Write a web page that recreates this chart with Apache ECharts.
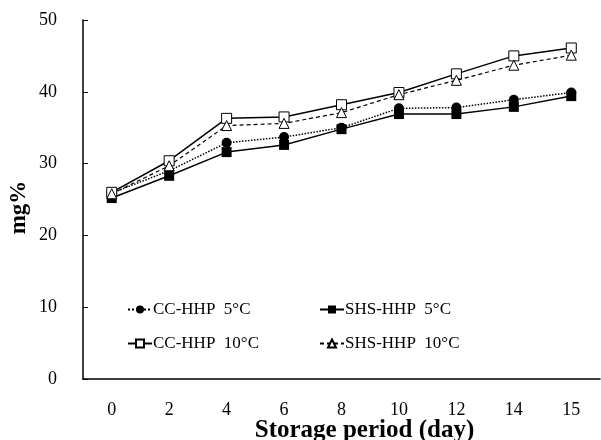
<!DOCTYPE html>
<html>
<head>
<meta charset="utf-8">
<script src="https://cdn.jsdelivr.net/npm/echarts@6/dist/echarts.min.js"></script>
<style>
  html, body { margin: 0; padding: 0; background: #fff; }
  #chart { width: 601px; height: 440px; }
</style>
</head>
<body>
<div id="chart"></div>
<script>
var days = ['0', '2', '4', '6', '8', '10', '12', '14', '15'];
var ccHhp5 = [25.9, 29.0, 32.9, 33.7, 35.0, 37.7, 37.8, 38.9, 39.9];
var shsHhp5 = [25.2, 28.3, 31.6, 32.6, 34.8, 36.9, 36.9, 37.9, 39.4];
var ccHhp10 = [26.0, 30.4, 36.3, 36.5, 38.2, 39.9, 42.5, 45.0, 46.1];
var shsHhp10 = [25.8, 29.7, 35.3, 35.6, 37.1, 39.6, 41.6, 43.7, 45.1];
var names = ['CC-HHP  5°C', 'SHS-HHP  5°C', 'CC-HHP  10°C', 'SHS-HHP  10°C'];

var font = '"Liberation Serif", "Times New Roman", serif';
var myChart = echarts.init(document.getElementById('chart'));

function legendAt(name, left, top) {
    return {
        data: [name],
        left: left,
        top: top,
        itemWidth: 24,
        itemHeight: 10,
        itemGap: 0,
        textStyle: { fontFamily: font, fontSize: 17, color: '#000', padding: [0, 0, 0, -4] }
    };
}

var option = {
    animation: false,
    backgroundColor: '#fff',
    grid: { left: 83, right: 1, top: 20, bottom: 61, outerBoundsMode: 'none', containLabel: false },
    legend: [
        legendAt(names[0], 122, 296),
        legendAt(names[1], 314, 296),
        legendAt(names[2], 122, 330),
        legendAt(names[3], 314, 330)
    ],
    xAxis: {
        type: 'category',
        data: days,
        boundaryGap: true,
        name: 'Storage period (day)',
        nameLocation: 'middle',
        nameGap: 39,
        nameMoveOverlap: false,
        nameTextStyle: { fontFamily: font, fontSize: 25, fontWeight: 'bold', color: '#000', padding: [0, 0, 0, 46] },
        axisLine: { lineStyle: { color: '#000', width: 1.5 } },
        axisTick: { inside: true, length: 5, lineStyle: { color: '#000' } },
        axisLabel: { fontFamily: font, fontSize: 18, color: '#000', margin: 22 },
        splitLine: { show: false }
    },
    yAxis: {
        type: 'value',
        min: 0,
        max: 50,
        interval: 10,
        name: 'mg%',
        nameLocation: 'middle',
        nameGap: 52,
        nameMoveOverlap: false,
        nameTextStyle: { fontFamily: font, fontSize: 23, fontWeight: 'bold', color: '#000', padding: [0, 16, 0, 0] },
        axisLine: { show: true, lineStyle: { color: '#000', width: 1.5 } },
        axisTick: { show: true, inside: true, length: 5, lineStyle: { color: '#000' } },
        axisLabel: { fontFamily: font, fontSize: 18, color: '#000', margin: 26 },
        splitLine: { show: false }
    },
    series: [
        {
            name: names[0], type: 'line', data: ccHhp5,
            symbol: 'circle', symbolSize: 10,
            itemStyle: { color: '#000' },
            lineStyle: { color: '#000', width: 1.5, type: 'dotted' }
        },
        {
            name: names[1], type: 'line', data: shsHhp5,
            symbol: 'rect', symbolSize: 10,
            itemStyle: { color: '#000' },
            lineStyle: { color: '#000', width: 1.5, type: 'solid' }
        },
        {
            name: names[2], type: 'line', data: ccHhp10,
            symbol: 'rect', symbolSize: 10,
            itemStyle: { color: '#fff', borderColor: '#000', borderWidth: 1 },
            lineStyle: { color: '#000', width: 1.5, type: 'solid' }
        },
        {
            name: names[3], type: 'line', data: shsHhp10,
            symbol: 'triangle', symbolSize: 10,
            itemStyle: { color: '#fff', borderColor: '#000', borderWidth: 1 },
            lineStyle: { color: '#000', width: 1.2, type: [4, 3] }
        }
    ]
};

myChart.setOption(option);
</script>
</body>
</html>
